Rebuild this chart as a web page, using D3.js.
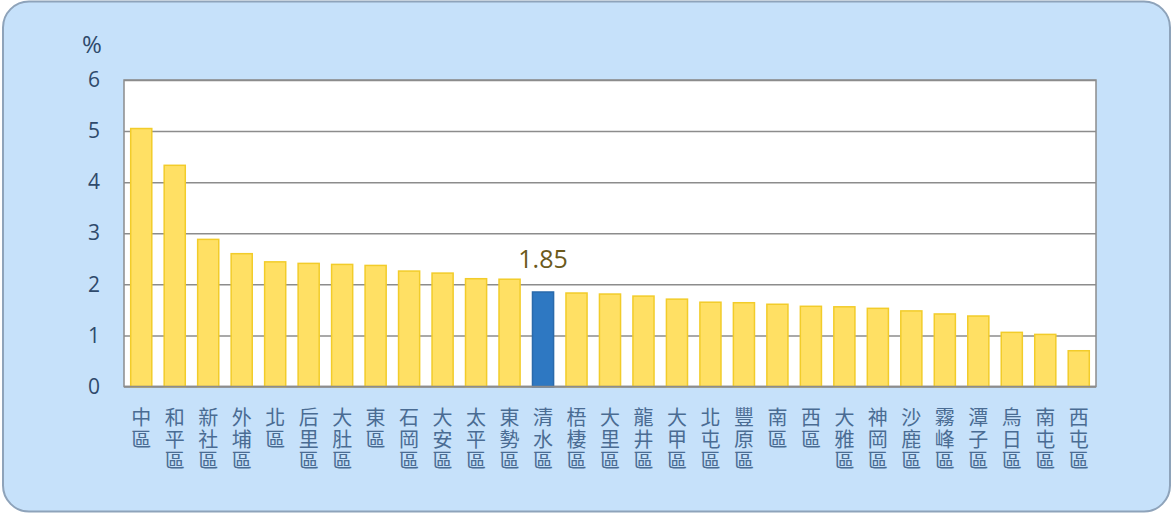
<!DOCTYPE html>
<html><head><meta charset="utf-8">
<script src="https://cdn.jsdelivr.net/npm/d3@7"></script>
<style>html,body{margin:0;padding:0;background:#fff;}svg{display:block;}</style>
</head><body>
<svg id="c" width="1173" height="513"></svg>
<script>
const categories = ["中區","和平區","新社區","外埔區","北區","后里區","大肚區","東區","石岡區","大安區","太平區","東勢區","清水區","梧棲區","大里區","龍井區","大甲區","北屯區","豐原區","南區","西區","大雅區","神岡區","沙鹿區","霧峰區","潭子區","烏日區","南屯區","西屯區"];
const values = [5.05,4.33,2.88,2.60,2.44,2.41,2.39,2.37,2.26,2.22,2.11,2.10,1.85,1.83,1.81,1.77,1.71,1.65,1.64,1.61,1.57,1.56,1.53,1.48,1.42,1.38,1.06,1.02,0.70];
const yTicks = [0,1,2,3,4,5,6];
const highlight = "清水區";
const highlightLabel = "1.85";
const unitLabel = "%";

const svg = d3.select("#c");
const m = {left:124, right:1096, top:80, bottom:386.5};

svg.append("rect").attr("x",3).attr("y",1.5).attr("width",1167).attr("height",510)
  .attr("rx",26).attr("ry",26).attr("fill","#c6e1fa").attr("stroke","#8ea3ba").attr("stroke-width",2);

const x = d3.scaleBand().domain(categories).range([m.left, m.right]).paddingInner(0.37).paddingOuter(0.2);
const y = d3.scaleLinear().domain([0,6]).range([m.bottom, m.top]);

svg.append("rect").attr("x",m.left).attr("y",m.top).attr("width",m.right-m.left).attr("height",m.bottom-m.top)
  .attr("fill","#fff").attr("stroke","#8c8c8c").attr("stroke-width",1.5);

const yAxis = d3.axisLeft(y).tickValues(yTicks).tickSize(-(m.right-m.left)).tickFormat(d3.format("d")).tickPadding(24);
const ga = svg.append("g").attr("transform",`translate(${m.left},0)`).call(yAxis);
ga.select(".domain").remove();
ga.selectAll(".tick line").attr("stroke","#8c8c8c").attr("stroke-width",1.5);
ga.selectAll(".tick text").attr("fill","#2f4a6b").attr("font-family","'Open Sans','Noto Sans',sans-serif").attr("font-size",21);

svg.append("text").attr("x",92).attr("y",53).attr("text-anchor","middle").attr("fill","#2f4a6b")
  .attr("font-family","'Open Sans','Noto Sans',sans-serif").attr("font-size",24).text(unitLabel);

svg.append("g").selectAll("rect").data(categories).join("rect")
  .attr("x",d=>x(d)).attr("width",x.bandwidth())
  .attr("y",(d,i)=>y(values[i])).attr("height",(d,i)=>y(0)-y(values[i]))
  .attr("fill",d=>d===highlight?"#2e78c2":"#ffe064")
  .attr("stroke",d=>d===highlight?"#2a6aab":"#f2cc2a").attr("stroke-width",1.5);

svg.append("line").attr("x1",m.left).attr("x2",m.right).attr("y1",m.bottom).attr("y2",m.bottom)
  .attr("stroke","#8c8c8c").attr("stroke-width",1.5);

const hi = categories.indexOf(highlight);
svg.append("text").attr("x",x(highlight)+x.bandwidth()/2).attr("y",y(values[hi])-24)
  .attr("text-anchor","middle").attr("fill","#6b5a1c")
  .attr("font-family","'Open Sans','Noto Sans',sans-serif").attr("font-size",25).text(highlightLabel);

const lbl = svg.append("g").selectAll("text").data(categories).join("text")
  .attr("text-anchor","middle").attr("fill","#4a6c93")
  .attr("font-family","'Noto Sans CJK TC','Noto Sans CJK SC',sans-serif").attr("font-size",20);
lbl.each(function(d){
  const t = d3.select(this);
  const cx = x(d)+x.bandwidth()/2;
  Array.from(d).forEach((ch,k)=>{
    t.append("tspan").attr("x",cx).attr("y",425+k*21.5).text(ch);
  });
});
</script>
</body></html>
